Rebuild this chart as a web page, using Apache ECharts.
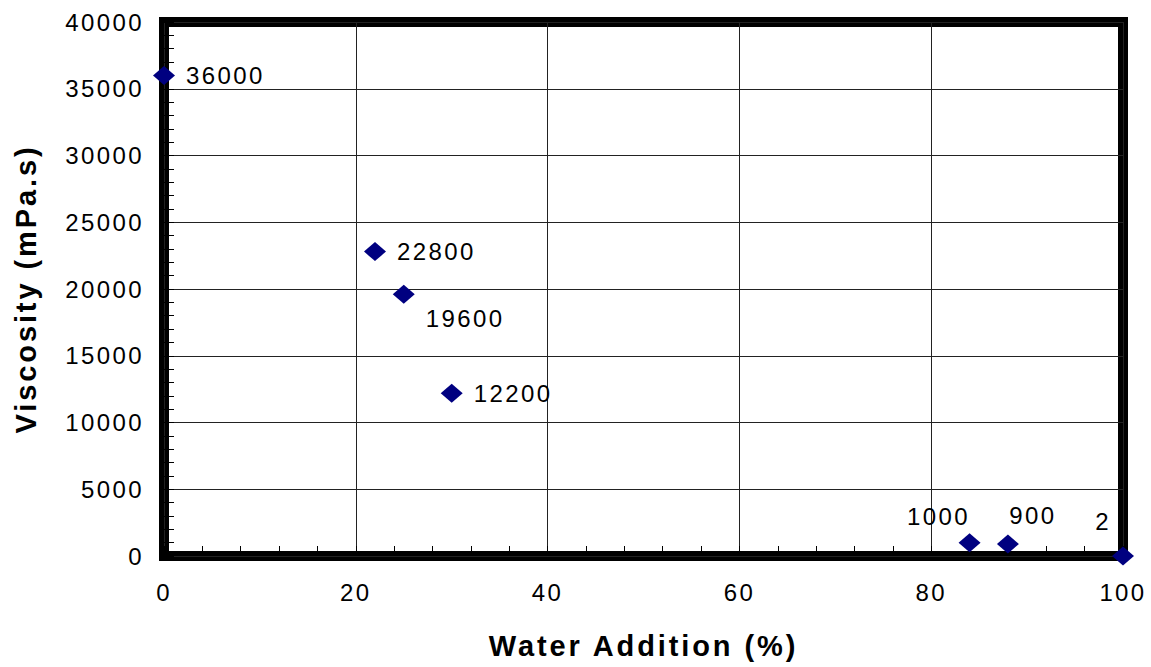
<!DOCTYPE html>
<html>
<head>
<meta charset="utf-8">
<script src="https://cdn.jsdelivr.net/npm/echarts@6/dist/echarts.min.js"></script>
<style>
  html, body { margin: 0; padding: 0; background: #fff; }
  #chart { width: 1151px; height: 667px; }
  #chart text { letter-spacing: 0.1em; }
</style>
</head>
<body>
<div id="chart"></div>
<script>
// Data
var waterAddition = [0, 22, 25, 30, 84, 88, 100];
var viscosity = [36000, 22800, 19600, 12200, 1000, 900, 2];
var xTicks = [0, 20, 40, 60, 80, 100];
var yTicks = [0, 5000, 10000, 15000, 20000, 25000, 30000, 35000, 40000];
var xAxisTitle = 'Water Addition (%)';
var yAxisTitle = 'Viscosity (mPa.s)';

// label placement (style only)
var labelPlacement = [
  { position: 'right', distance: 11, offset: [0, 0] },
  { position: 'right', distance: 11, offset: [0, 0] },
  { position: 'right', distance: 11, offset: [0, 24] },
  { position: 'right', distance: 11, offset: [0, 0] },
  { position: 'top', distance: 5, offset: [-31, 0] },
  { position: 'top', distance: 5, offset: [25, -2] },
  { position: 'top', distance: 5, offset: [-20, -8] }
];

var points = waterAddition.map(function (x, i) {
  return {
    value: [x, viscosity[i]],
    label: labelPlacement[i]
  };
});

var FONT = 'Liberation Sans, Arial, sans-serif';
var chart = echarts.init(document.getElementById('chart'), null, { renderer: 'svg' });
chart.setOption({
  animation: false,
  backgroundColor: '#fff',
  grid: {
    left: 164, right: 28, top: 22, bottom: 111,
    show: true, borderColor: '#000', borderWidth: 10, backgroundColor: 'transparent'
  },
  xAxis: {
    type: 'value',
    min: xTicks[0], max: xTicks[xTicks.length - 1], interval: xTicks[1] - xTicks[0],
    name: xAxisTitle, nameLocation: 'middle', nameGap: 75,
    nameTextStyle: { fontFamily: FONT, fontSize: 29, fontWeight: 'bold', color: '#000' },
    axisLine: { show: false },
    axisTick: { show: true, inside: true, length: 10, lineStyle: { color: '#000', width: 1 } },
    minorTick: { show: true, splitNumber: 5, length: 10, lineStyle: { color: '#000', width: 1 } },
    splitLine: { show: true, lineStyle: { color: '#222', width: 1 } },
    axisLabel: { fontFamily: FONT, fontSize: 24, color: '#000', margin: 24 }
  },
  yAxis: {
    type: 'value',
    min: yTicks[0], max: yTicks[yTicks.length - 1], interval: yTicks[1] - yTicks[0],
    name: yAxisTitle, nameLocation: 'middle', nameGap: 124, nameRotate: 90,
    nameTextStyle: { fontFamily: FONT, fontSize: 29, fontWeight: 'bold', color: '#000' },
    axisLine: { show: false },
    axisTick: { show: true, inside: true, length: 10, lineStyle: { color: '#000', width: 1 } },
    minorTick: { show: true, splitNumber: 5, length: 10, lineStyle: { color: '#000', width: 1 } },
    splitLine: { show: true, lineStyle: { color: '#222', width: 1 } },
    axisLabel: {
      fontFamily: FONT, fontSize: 24, color: '#000', margin: 20,
      formatter: function (v) { return String(v); }
    }
  },
  series: [{
    type: 'scatter',
    clip: false,
    symbol: 'diamond',
    symbolSize: [22, 19],
    itemStyle: { color: '#000080', opacity: 1 },
    z: 10,
    label: {
      show: true,
      fontFamily: FONT, fontSize: 24, color: '#000', opacity: 1,
      formatter: function (p) { return String(p.value[1]); }
    },
    data: points
  }]
});
</script>
</body>
</html>
